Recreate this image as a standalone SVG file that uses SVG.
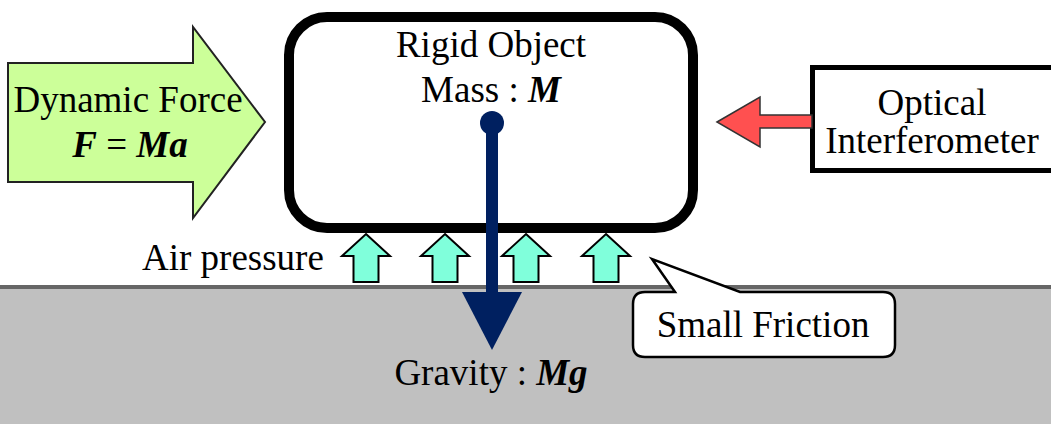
<svg xmlns="http://www.w3.org/2000/svg" width="1051" height="424" viewBox="0 0 1051 424">
<style>
.t{font-family:"Liberation Serif","Times New Roman",serif;font-size:37px;fill:#000}
.bi{font-weight:bold;font-style:italic}
.it{font-style:italic}
.air{fill:#80ffdb;stroke:#000;stroke-width:2;stroke-linejoin:miter}
</style>
<defs>
<path id="airArrow" d="M0,0 L24,22 L12.5,22 L12.5,48 L-12.5,48 L-12.5,22 L-24,22 Z"/>
</defs>
<rect width="1051" height="424" fill="#fff"/>
<g id="ground">
<rect x="0" y="287" width="1051" height="137" fill="#c0c0c0"/>
<line x1="0" y1="287" x2="1051" y2="287" stroke="#666" stroke-width="4"/>
</g>
<g id="dynamic-force">
<polygon points="8,63 193,63 193,27 265,122 193,218 193,182 8,182" fill="#ccff99" stroke="#222" stroke-width="2"/>
<text class="t" x="128" y="112" text-anchor="middle">Dynamic Force</text>
<text class="t" x="130" y="157" text-anchor="middle"><tspan class="bi">F</tspan> = <tspan class="bi">Ma</tspan></text>
</g>
<g id="rigid-object">
<rect x="289" y="17" width="404" height="211" rx="38" fill="#fff" stroke="#000" stroke-width="10"/>
<text class="t" x="491" y="57" text-anchor="middle">Rigid Object</text>
<text class="t" x="491" y="102" text-anchor="middle">Mass : <tspan class="bi">M</tspan></text>
</g>
<g id="optical-interferometer">
<rect x="812.5" y="67.5" width="260" height="103" fill="#fff" stroke="#000" stroke-width="5"/>
<text class="t" x="932" y="115" text-anchor="middle">Optical</text>
<text class="t" x="932" y="153" text-anchor="middle">Interferometer</text>
</g>
<g id="air-pressure">
<text class="t" x="142" y="270">Air pressure</text>
<use href="#airArrow" class="air" x="366" y="234"/>
<use href="#airArrow" class="air" x="445" y="234"/>
<use href="#airArrow" class="air" x="526" y="234"/>
<use href="#airArrow" class="air" x="606" y="234"/>
</g>
<g id="small-friction">
<path d="M740,292 H883 Q895,292 895,304 V345 Q895,357 883,357 H645 Q633,357 633,345 V304 Q633,292 645,292 H675 L652,259 Z" fill="#fff" stroke="#000" stroke-width="2.5" stroke-linejoin="miter"/>
<text class="t" x="763" y="337" text-anchor="middle">Small Friction</text>
</g>
<g id="gravity">
<text class="t" x="491" y="385" text-anchor="middle">Gravity : <tspan class="bi">Mg</tspan></text>
</g>
<g id="connectors">
<polygon points="717,122 760,97 760,115 812,115 812,128 760,128 760,147" fill="#ff5050" stroke="#333" stroke-width="1.5"/>
<circle cx="492" cy="123" r="12" fill="#002060"/>
<line x1="492" y1="123" x2="492" y2="294" stroke="#002060" stroke-width="12"/>
<polygon points="462,292 522,292 492,350" fill="#002060"/>
</g>
</svg>
